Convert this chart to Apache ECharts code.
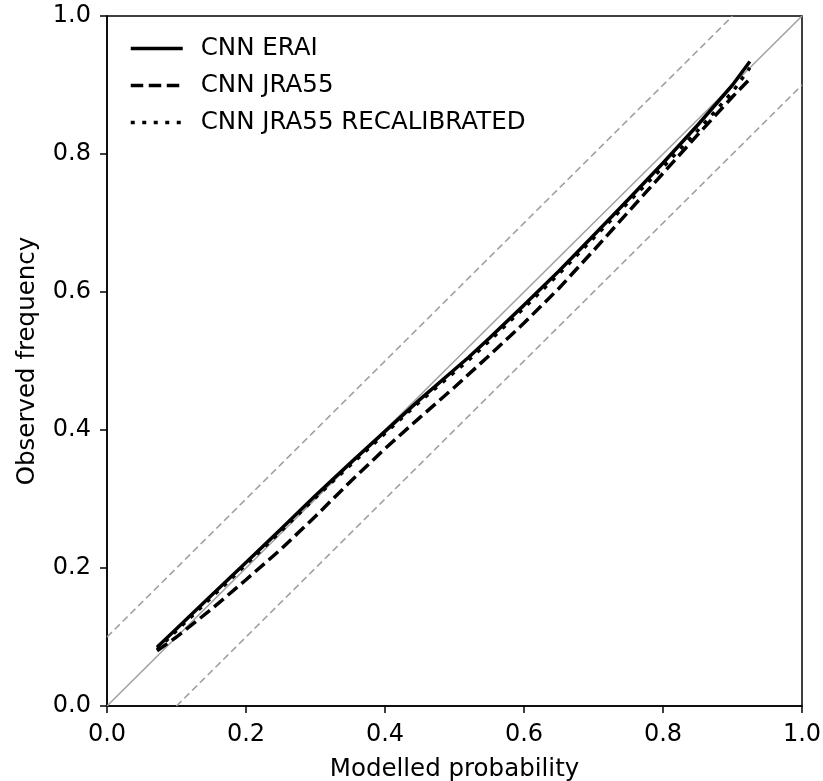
<!DOCTYPE html>
<html>
<head>
<meta charset="utf-8">
<script src="https://cdn.jsdelivr.net/npm/echarts@6/dist/echarts.min.js"></script>
<style>html,body{margin:0;padding:0;background:#fff;}#chart{width:823px;height:781px;}</style>
</head>
<body>
<div id="chart"></div>
<script>
// Modelled probability (x) and observed frequency (y)
const erai_x = [0.072, 0.1, 0.15, 0.2, 0.25, 0.3, 0.35, 0.4, 0.45, 0.52, 0.55, 0.6, 0.65, 0.7, 0.75, 0.8, 0.85, 0.9, 0.925];
const erai_y = [0.085, 0.112, 0.160, 0.208, 0.256, 0.305, 0.352, 0.398, 0.444, 0.505, 0.533, 0.581, 0.630, 0.682, 0.734, 0.787, 0.842, 0.900, 0.934];

const jra_x = [0.072, 0.1, 0.15, 0.2, 0.25, 0.3, 0.35, 0.4, 0.45, 0.5, 0.55, 0.6, 0.65, 0.7, 0.75, 0.8, 0.85, 0.9, 0.928];
const jra_y = [0.080, 0.100, 0.140, 0.183, 0.227, 0.275, 0.325, 0.373, 0.418, 0.462, 0.508, 0.555, 0.605, 0.660, 0.716, 0.772, 0.828, 0.883, 0.912];

const recal_x = [0.072, 0.1, 0.15, 0.2, 0.25, 0.3, 0.35, 0.4, 0.45, 0.52, 0.55, 0.6, 0.65, 0.7, 0.75, 0.8, 0.85, 0.9, 0.925];
const recal_y = [0.082, 0.109, 0.157, 0.205, 0.253, 0.302, 0.349, 0.395, 0.441, 0.501, 0.529, 0.577, 0.626, 0.678, 0.730, 0.781, 0.834, 0.890, 0.925];

// Reference lines
const diag_x = [0, 1];
const diag_y = [0, 1];
const upper_x = [0, 0.9];
const upper_y = [0.1, 1.0];
const lower_x = [0.1, 1.0];
const lower_y = [0, 0.9];

const ticks = [0, 0.2, 0.4, 0.6, 0.8, 1.0];
const seriesNames = ['CNN ERAI', 'CNN JRA55', 'CNN JRA55 RECALIBRATED'];
const xLabel = 'Modelled probability';
const yLabel = 'Observed frequency';

const zip = (xs, ys) => xs.map((x, i) => [x, ys[i]]);
const FONT = 'DejaVu Sans';
const GRAY = '#a0a0a0';

const chart = echarts.init(document.getElementById('chart'), null, {renderer: 'canvas'});
const axisCommon = {
  type: 'value', min: ticks[0], max: ticks[ticks.length - 1], interval: 0.2,
  axisLine: {show: true, lineStyle: {color: '#000', width: 1.5}},
  axisTick: {show: true, inside: false, length: 7, lineStyle: {color: '#000', width: 1.5}},
  splitLine: {show: false},
  axisLabel: {color: '#000', fontSize: 24, fontFamily: FONT, formatter: v => v.toFixed(1)},
  nameLocation: 'middle',
  nameTextStyle: {color: '#000', fontSize: 24.5, fontFamily: FONT}
};
const lineSeries = (name, data, type, width, color, z) => ({
  name, type: 'line', data, symbol: 'none', smooth: false, z: z || 3,
  lineStyle: {color, width, type}, itemStyle: {color},
  emphasis: {disabled: true}, silent: true, animation: false
});

chart.setOption({
  animation: false,
  backgroundColor: '#fff',
  grid: {left: 107, right: 21, top: 16, bottom: 75, show: true, borderColor: '#000', borderWidth: 1.5, containLabel: false, outerBoundsMode: 'none'},
  xAxis: Object.assign({}, axisCommon, {name: xLabel, nameGap: 51, axisLabel: Object.assign({}, axisCommon.axisLabel, {margin: 17})}),
  yAxis: Object.assign({}, axisCommon, {name: yLabel, nameGap: 67, axisLabel: Object.assign({}, axisCommon.axisLabel, {margin: 16})}),
  legend: {
    data: seriesNames, orient: 'vertical', left: 129, top: 36, padding: 0,
    itemWidth: 52, itemHeight: 25, itemGap: 12,
    itemStyle: {opacity: 0},
    lineStyle: {width: 3.5},
    textStyle: {color: '#000', fontSize: 24.5, fontFamily: FONT, padding: [0, 0, 0, 13]},
    selectedMode: false
  },
  series: [
    lineSeries('diag', zip(diag_x, diag_y), 'solid', 1.5, GRAY, 1),
    lineSeries('upper', zip(upper_x, upper_y), [7, 4], 1.6, GRAY, 1),
    lineSeries('lower', zip(lower_x, lower_y), [7, 4], 1.6, GRAY, 1),
    lineSeries(seriesNames[0], zip(erai_x, erai_y), 'solid', 3.5, '#000', 3),
    lineSeries(seriesNames[1], zip(jra_x, jra_y), [12.5, 5.5], 3.5, '#000', 3),
    lineSeries(seriesNames[2], zip(recal_x, recal_y), [4, 7.5], 3.5, '#000', 3)
  ]
});
</script>
</body>
</html>
